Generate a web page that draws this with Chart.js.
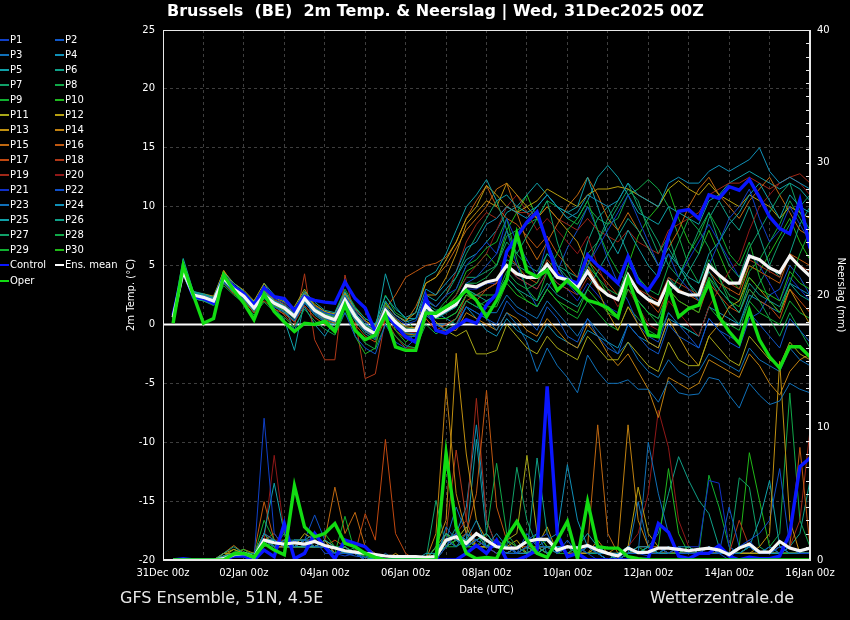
<!DOCTYPE html>
<html><head><meta charset="utf-8">
<script src="https://cdn.jsdelivr.net/npm/chart.js@4"></script>
<style>
html,body{margin:0;padding:0;background:#000;}
#wrap{position:relative;width:850px;height:620px;background:#000;overflow:hidden;font-family:"DejaVu Sans",sans-serif;color:#fff;}
#title{position:absolute;left:167px;top:1px;font-weight:bold;font-size:16px;line-height:20px;white-space:pre;}
#cv{position:absolute;left:0;top:0;}
.lg{position:absolute;font-size:10px;line-height:12px;white-space:pre;}
.lg i{position:absolute;left:-10px;top:5px;width:9px;height:2px;}
.ft{position:absolute;font-size:16px;line-height:20px;color:#e8e8e8;white-space:pre;}
</style></head><body>
<div id="wrap">
<canvas id="cv" width="850" height="620"></canvas>
<div id="title">Brussels  (BE)  2m Temp. &amp; Neerslag | Wed, 31Dec2025 00Z</div>
<div id="legend"></div>
<div class="ft" style="left:120px;top:588px;">GFS Ensemble, 51N, 4.5E</div>
<div class="ft" style="left:650px;top:588px;">Wetterzentrale.de</div>
</div>
<script>
const xTickLabels = ['31Dec 00z','02Jan 00z','04Jan 00z','06Jan 00z','08Jan 00z','10Jan 00z','12Jan 00z','14Jan 00z','16Jan 00z'];
const memberNames = ['P1','P2','P3','P4','P5','P6','P7','P8','P9','P10','P11','P12','P13','P14','P15','P16','P17','P18','P19','P20','P21','P22','P23','P24','P25','P26','P27','P28','P29','P30'];
const memberColors = ['#1040c8','#1058c8','#1070b8','#1090b8','#10a0a8','#10a088','#10a068','#10a848','#10b030','#20b820','#a8a818','#b8a010','#c09010','#c08010','#c06810','#c05810','#c04810','#b03818','#a02818','#901818','#1030c8','#1050c8','#1070b8','#1090b8','#10a0a8','#10a088','#10a068','#10a848','#10b030','#20b818'];

// 2m temperature (°C), 6-hourly from 31Dec 06z to 16Jan 00z
const controlT = [0.8,4.6,2.35,2.2,1.8,4.05,3.2,2.6, 1.65,3.1,2.35,2.2,1.2,2.35,2.05,1.9, 1.8,3.6,2.2,1.4,-0.6,0.95,-0.05,-1.05, -1.5,2.35,-0.5,-0.75,-0.2,0.4,0.1,1.65, 2.6,6.2,7.45,8.7,9.55,6.9,4.2,3.8, 3.5,5.9,5.0,4.3,3.5,5.75,3.6,2.9, 4.2,7.45,9.6,9.75,9.0,11.0,10.7,11.7, 11.4,12.3,10.8,9.15,8.15,7.7,10.55,6.45];
const operT = [0.1,5.0,2.5,0.1,0.5,4.2,2.9,1.8, 0.4,2.6,1.1,0.2,-0.6,0.1,0.0,0.25, -0.6,1.65,-0.5,-1.3,-0.9,0.8,-1.9,-2.2, -2.2,0.95,0.95,1.5,2.05,2.9,2.05,0.65, 2.05,3.75,7.7,4.5,4.05,4.6,2.9,3.75, 2.9,2.05,1.8,1.4,0.6,3.9,1.5,-0.9, -1.05,3.2,0.65,1.35,1.65,3.5,0.65,-0.6, -1.6,1.2,-1.3,-2.75,-3.7,-1.9,-1.9,-2.75];
const meanT = [0.6,4.5,2.5,2.3,2.0,3.9,3.0,2.4, 1.4,2.5,1.8,1.4,0.7,2.2,1.2,0.7, 0.4,2.1,0.7,-0.3,-0.8,1.2,0.2,-0.5, -0.5,1.6,0.7,1.2,1.7,3.3,3.2,3.6, 3.8,5.0,4.3,4.0,4.0,5.1,4.0,3.8, 3.1,4.5,3.2,2.5,2.1,4.2,2.8,2.1, 1.7,3.6,2.8,2.5,2.5,5.0,4.2,3.5, 3.5,5.8,5.5,4.8,4.4,5.8,4.9,4.1];

const p1T = [.8,4.6,2.6,2.4,2.1,3.8,3.2,2.6, 1.8,3,2.2,1.8,1,2.4,1.5,1, .8,2.4,1.2,.2,-.5,1.5,.6,0, .3,2.2,1.5,2.5,3,5,6,7, 6,9,7,5.5,4,7,5,3.5, 2.5,5,6.5,8,9.5,11,9,7, 5,6,4,3,2,5,7,9, 10,11.5,9,7,8,10,8.5,7];
const p2T = [.5,4.4,2.3,2.1,1.8,3.6,2.8,2.2, 1.2,2.3,1.5,1.1,.3,1.8,.9,.3, -.5,1,-1,-2,-2.5,0,-1.5,-2, -1.2,.8,0,-.5,-.3,1.5,1,.5, 0,2,1,.5,-.5,1.5,.5,-1, -1.5,.5,-1,-2,-2.5,0,-1,-2, -2.5,0,-1,-1.5,-2,.5,-.5,-1, -1.5,1,0,-1,-2,.5,-.5,-1.5];
const p3T = [.7,4.5,2.4,2.2,1.9,3.7,2.9,2.3, 1.3,2.4,1.7,1.3,.5,2,1,.5, .2,1.9,.4,-.6,-1.2,.8,-.3,-1, -1,1,0,-.5,0,1.5,1,.5, -.5,1,0,-1.5,-4,-2,-3.5,-4.5, -5.8,-2.6,-4,-5,-5,-4.7,-5.5,-5.5, -6.6,-4.8,-5.8,-6,-5.9,-4.5,-4.7,-6, -7.1,-5,-6,-6.8,-6.5,-5,-5.5,-5.8];
const p4T = [.6,4.7,2.7,2.5,2.2,4.2,3.3,2.7, 1.7,2.8,2,1.6,.9,2.6,1.5,1, .7,2.5,1,0,-.4,2,.8,.2, .5,3,2.5,3.5,4.5,6.5,7,8.5, 9,10,9.5,9,10,11,10,9, 9.5,11,10.5,10,10.5,12,11,10.5, 10,12,12.5,12,12,13,13.5,13, 13.5,14,15,13,12,12.5,12,11.5];
const p5T = [.9,5.6,2.8,2.6,2.3,4.4,3.5,2.8, 1.9,3.2,2.4,2,1.3,2.8,1.9,1.2, 1,2.8,1.4,.5,0,2.4,1.3,.6, 1,4,4.5,6,8,10,11,12.3, 10.5,11,10,9.5,10,11,10,9.5, 10,12.5,10,7.5,6,8,6.5,5, 4,6,5,4,3.5,6,7,8.5, 9.5,11,12,10.5,9,11,10,9.5];
const p6T = [.4,4.3,2.2,2,1.7,3.5,2.7,2.1, 1.1,2.2,1.5,1,.3,1.9,.8,.2, -.3,1.8,.3,-.8,-1.3,.9,-.2,-1, -1,1.2,.5,1,1.5,3,2.5,2, 2.5,4,3,2.5,2,3.5,2.5,2, 1.5,3,4.5,6,7.5,9,8,6.5, 5,6.5,5,3.5,2.5,4.5,3,2, 1,3.5,2.5,2,1.5,3.5,2.5,2];
const p7T = [.6,4.6,2.6,2.4,2.1,4,3.1,2.5, 1.5,2.7,2,1.6,.9,2.4,1.4,.9, .6,2.3,.9,-.1,-.6,1.4,.4,-.3, -.4,2,1.5,2.5,4,6,7.5,9, 10.5,8,6,7.5,9,10.5,7,4.5, 3,5,7,9,10.5,12,10,8.5, 7,5,4,6,8,9.5,7,5, 4,6.5,8,9.5,11,12,9.5,8];
const p8T = [.5,4.2,2.2,2,1.6,3.3,2.5,1.8, .8,1.9,1.1,.6,-.2,1.3,.3,-.4, -.9,1,-.5,-1.6,-2.1,0,-1,-1.8, -2,0,-.8,-.3,.5,2,1.5,2, 2.5,4.5,3.5,3,3.5,5,4,3.5, 3,5,4,3,2.5,5,4,3, 2.5,5,7,9,8,6.5,4,2, 1,3,2,.5,-1,1,-.5,-2];
const p9T = [.7,4.8,2.7,2.5,2.2,4.1,3.2,2.6, 1.6,2.6,1.9,1.5,.8,2.3,1.3,.8, .5,2.2,.8,-.2,-.7,1.3,.3,-.4, -.5,1.5,1,2,3,5,5.5,6.5, 7,9,5.5,3,2,4.5,6,8, 9,10.5,8,6,4.5,3.5,2,1, 0,2.5,4,6,7.5,9.5,8,6, 5,7,4,2,1,3.5,6,8];
const p10T = [.4,4.4,2.3,2.1,1.8,3.7,2.8,2.2, 1.2,2.3,1.6,1.2,.5,2,1,.5, -.5,2.5,-1,-2.5,-2,2,-.5,-1.5, -.8,1.5,.5,.5,1,2.5,2,1.5, 1.5,3.5,2.5,2,1.5,3,2,1.5, 1,3,2,1,.5,3,2,1, .5,3,2,1.5,1,4,3,2, 1.5,4,3,2.5,2,4.5,3.5,3];
const p11T = [.6,4.5,2.5,2.3,2,3.9,3,2.4, 2,3.5,2,1,1.5,3,1.5,.5, .4,2.1,.7,-.3,-.8,1.2,.2,-.5, -.6,1.2,.2,-.5,-1,-.5,-2.5,-2.5, -2.2,0,-1,-2,-2.5,-1,-2,-2.5, -3,-1,-2,-3,-3,-1.5,-2.5,-3.5, -4,-1.5,-3,-3.5,-3.5,-1,-2,-3, -3.5,-1,-2,-3,-3.5,-1.5,-2.5,-3];
const p12T = [.5,4.6,2.7,2.6,2.4,4.5,3.5,2.9, 2,3,2.3,1.9,1.2,2.7,1.7,1.1, .9,2.7,1.3,.3,-.2,1.8,.8,.3, 1,3.5,4,5.5,7,9,10,11.8, 11,10,9.5,10,10.5,11.5,11,10.5, 10,11,11.5,11.5,11.7,11.5,11,10.5, 10,11.5,12.2,11.5,11,12,11,10.5, 10,11,10.5,10,9,10,9.5,9];
const p13T = [.8,4.3,2.4,2.3,2.2,4.6,3.3,2.5, 1.5,2.9,2,1.5,.8,2.5,1.4,.9, .6,2.6,1,0,-.5,1.6,.5,-.2, -.3,2.5,2.5,4,6,8.5,9.5,10.5, 10,12,11,10,9,10,9,8, 7,5,3,1,-.5,1.5,0,-1.5, -2,.5,-1,-2.5,-3.5,-1,0,1.5, 2,4,3,2,1,3,1.5,0];
const p14T = [.5,4.4,2.4,2.2,1.9,3.8,2.9,2.3, 1.3,2.4,1.6,1.2,.5,2,1,.4, .1,1.8,.4,-.6,-1.1,.9,-.1,-.8, -.9,1,0,-.5,-.5,1,.5,0, -.5,1,.5,-.5,-1,.5,-.5,-1.5, -2,0,-1,-2.5,-3.5,-2.5,-4,-5.5, -7.9,-4.5,-5,-5.5,-5,-3,-3.5,-4, -4.5,-2.5,-3.5,-5,-6,-4,-3,-2.5];
const p15T = [.6,4.5,2.6,2.5,2.3,4.3,3.3,2.7, 1.7,2.8,2.1,1.7,1,2.6,1.6,1.1, .8,2.5,1.2,.3,-.2,1.8,.8,.2, 1.5,3.5,4,5,6.5,8,9,10, 11.5,12,9.5,7,5.5,7,8.5,10, 11,12.5,11,9,8,9.5,8,6.5, 5,6.5,8,10,11.5,12.5,11,10, 9,10.5,11.5,12.5,11,9.5,8,7.5];
const p16T = [.7,4.4,2.5,2.4,2.1,4,3.1,2.5, 1.5,2.6,1.9,1.5,.8,2.3,1.3,.8, .5,2.2,.8,-.2,-.7,1.3,2.5,4, 4.5,5,5.2,5.7,7,9,10.5,11.8, 10,9,8.5,7.5,6.5,7.5,6,5, 4,5.5,4.5,3.5,2.5,4,3,2, 1.5,3.5,3,2.5,2,4.5,3.5,3, 2.5,5,4.5,4,3.5,6,5.5,5];
const p17T = [.5,4.2,2.2,2,1.7,3.5,2.6,2, 1,2,1.3,.9,.2,1.6,.6,0, -.3,1.5,0,-1,-1.5,.5,-.5,-1.2, -1.3,.5,-.5,0,.5,2.5,2,3, 3.5,6,5,4,3.5,5.5,4.5,3.5, 3,5,3.5,2.5,2,4,3,2, 1,3,2,1.5,1,3.5,2.5,1.5, 1,3,2,1.5,.5,3,2,1];
const p18T = [.6,4.3,2.3,2.1,1.7,3.7,2.8,2.1, 1,2.6,1.6,.8,-.2,4.3,-1.3,-3, -3,4.2,.5,-4.6,-4.2,.5,-1,-2, -2,.5,-.5,-.5,0,2,2.5,3, 3.5,5,4,3.5,3,4.5,3.5,3, 2.5,4,3,2.5,2,4,3,2.5, 2,4,3.5,3,2.5,5,4,3.5, 3,5.5,5,4.5,4,6,5,4.5];
const p19T = [.7,4.6,2.6,2.4,2.1,4,3.1,2.5, 1.5,2.6,1.9,1.5,.8,2.3,1.3,.8, .5,2.2,.8,-.2,-.7,1.3,.3,-.4, -.3,2,1.5,2.5,4.5,7,8.5,9.5, 9,10,9.5,9.5,9,10,9,8.5, 8,9,8,7.5,7,8,7,6.5, 6,8,8.5,9,9.5,11,11.5,12, 12,12.5,12,11.5,12,12.5,12.8,12];
const p20T = [.5,4.4,2.4,2.2,1.9,3.8,2.9,2.3, 1.3,2.4,1.7,1.3,.6,2.1,1.1,.6, .3,2,.6,-.4,-.9,1.1,.1,-.6, -.7,1.2,.5,1.5,2.5,4,5,6, 8,10,11,9.5,8,9,8,7, 6,7.5,5,3,1.5,3,1.5,0, -.5,2,1,0,-1,1.5,3,4.5, 5.5,8,10,11,12,12.5,12,11];
const p21T = [.6,4.5,2.5,2.3,2,3.8,3,2.4, 1.4,2.5,1.8,1.4,.7,2.2,1.2,.7, .4,2.1,.7,-.3,-.8,1.2,.2,-.5, -.8,1,.5,1,1.5,3,3,3.5, 3.5,5,4,3.5,3,4.5,3.5,3, 2,3.5,2.5,1.5,1,3,2,1, .5,2.5,4,5.5,7,8.5,7,5.5, 4,6,5,3.5,2,4,3,2];
const p22T = [.7,4.6,2.6,2.4,2.1,3.9,3.1,2.5, 1.5,2.6,1.9,1.5,.8,2.3,1.3,.8, .5,2.2,.8,-.2,-.7,1.3,.3,-.4, -.5,1.5,1,1.5,2,3.5,4,5, 6,8,5,3,1.5,3,4.5,6.5, 8,10,8,5.5,3.5,2,0,-1, -1.5,1,0,-1,-2,.5,-.5,-1.5, -2,.5,1,2.5,3,5,4,2.5];
const p23T = [.5,4.3,2.3,2.1,1.8,3.6,2.8,2.2, 1.2,2.3,1.6,1.2,.5,2,1,.5, .2,1.9,.5,-.5,-1,1,0,-.7, -.8,.8,0,0,.5,2,1.5,1, 1,2.5,1.5,1,.5,2,1,0, -1,.5,-.5,-1.5,-2.5,-1.5,-3,-4, -4.5,-3,-4,-4.5,-4,-2.5,-3,-3.5, -4,-2,-3,-3.5,-4,-2,-3,-3.5];
const p24T = [.6,4.5,2.5,2.3,2,3.9,3,2.4, 1,3.5,2.5,1.5,-.5,1.5,0,-1, .4,2.1,.7,-.3,-.8,1.2,.2,-.5, -.5,1.5,1,.5,0,1.5,.5,-.5, -1,.5,-.5,-1,-1.5,0,-1,-1.5, -2,-.5,-1,-1.5,-2,0,-1,-1.5, -2,.5,0,-.5,-1,1.5,1,.5, 0,2.5,2,1.5,1,3.5,3,2.5];
const p25T = [.8,4.8,2.8,2.5,2.2,4.1,3.2,2.6, 1.5,2.7,1.4,.4,-2.2,2,1,.3, 0,2.4,1,0,-.5,4.3,1.5,.5, .5,2.5,2,3,4,5.5,6,7, 8,9.5,10,11,12,11,10,9.5, 9,10.5,12.5,13.5,12.5,11,9.5,9, 8.5,10,9.5,9,8.5,10.5,11,12, 12.5,13,12.5,12,11.5,12,11.5,10.5];
const p26T = [.6,4.4,2.4,2.3,2,3.8,2.9,2.3, 1.3,2.4,1.7,1.3,.6,2.1,1.1,.6, .3,2,.6,-.4,-.9,1.1,.1,-.6, -.6,1.3,.5,.5,1,2.5,2.5,3, 3.5,5.5,5,4.5,4,6,5,4.5, 4,7,9,10,8,6,4,2.5, 1.5,4,3,4.5,6,9,10.5,9, 8,10,7.5,5,4,6,8.5,10];
const p27T = [.7,4.5,2.5,2.4,2.1,4,3.1,2.4, 1.4,2.5,1.8,1.4,.7,2.2,1.2,.7, .4,2.1,.7,-.3,-.8,1.2,.2,-.5, -.4,1.8,1.2,1.5,2.5,4,4,4.5, 5,7,6,5,4.5,6,5,4, 3.5,6,7,8.5,10,11.5,10.5,8, 6,7.5,5,3.5,2,4,2.5,1, 0,2,3.5,5,7,8.5,10,11];
const p28T = [.5,4.4,2.4,2.2,1.9,3.8,2.8,2.2, 1.2,2.3,1.6,1.2,.5,2,1,.5, .2,1.9,.5,-.5,-1,1,0,-.7, -.8,1,.5,1,2,3.5,3.5,4, 5,7.5,8,8.5,9,10.5,10,9, 8.5,10,9,8.5,9,11,11.5,12.3, 11.5,10,7.5,5,3.5,5.5,4,2.5, 2,4.5,5.5,7,8.5,10.5,9,7.5];
const p29T = [.6,4.6,2.6,2.4,2.1,3.9,3,2.4, 1.4,2.5,1.8,1.4,.7,2.2,1.2,.7, 1,3,1.5,.5,0,2.5,1,.5, -.6,1.5,.5,1,1.5,3,2.5,2.5, 2.5,4,3,2,1.5,3,2,1, .5,2,1,0,-.5,1.5,.5,-.5, -1,1,0,-.5,-1,1.5,.5,0, -.5,2,1,.5,0,2,1,.5];
const p30T = [.5,4.5,2.5,2.3,2,3.9,3,2.4, 1.4,2.5,1.8,1.4,.7,2.2,1.2,.7, .4,2.1,.7,-.3,-.8,1.2,.2,-.5, -.4,1.5,1,1.5,2.5,4.5,5,6, 5,8,9.5,11,9,7,5,3.5, 3,5.5,4,2.5,2,5,7.5,9, 10,11.5,9,7,6,8,6,4, 3,5,4.5,6,7.5,9,7,5.5];

// precipitation (mm per 6h)
const controlR = [0,.1,0,0,0,0,.3,.3, 0,.75,.25,2.75,.1,.5,2,1, .1,1.5,1.25,1,.25,0,0,0, 0,0,0,0,0,.5,1.1,.5, 1.5,0,0,.3,.75,13.1,2,.25, .5,0,0,0,0,0,0,.1, 2.75,2.1,.3,.1,.5,.5,1.1,.3, 0,.2,.1,.1,.3,2,7.05,7.7];
const operR = [0,0,0,0,0,0,.45,.5, .2,1.25,.75,.4,5.6,2.5,1.75,2, 2.75,1.25,1,.5,.2,0,0,0, 0,0,0,8.05,2.5,.5,.1,.2, .1,1.75,2.9,1.5,.5,.2,1.5,2.9, .1,4.4,1,.9,.9,.25,.1,0, 0,0,0,0,0,0,0,0, 0,0,0,0,0,0,0,0];
const meanR = [0,0,0,0,0,.1,.4,.5, .2,1.5,1.3,1.2,1.3,1.2,1.4,1.1, .9,.7,.6,.5,.4,.3,.25,.25, .25,.2,.25,1.5,1.75,1.25,2,1.5, 1,.9,.9,1.4,1.55,1.55,.75,1, .9,1.1,.75,.5,.3,.9,.55,.6, .9,.9,.8,.7,.8,.9,.75,.4, .9,1.2,.6,.6,1.4,.9,.7,.9];

const p1R = [0,0,0,0,0,0,.5,.5, 0,10.7,2,1,1.5,1,1.5,.5, .5,.3,.5,0,0,0,0,0, 0,0,0,1,2,1,1.5,1, .5,1,.5,1,1.5,2,.5,1, 1,.5,0,0,0,1,.5,.3, 1,.5,1,.5,.5,1,.5,0, 1,1.5,.5,.5,1,1,.5,.5];
const p2R = [0,0,0,0,0,.2,.3,.5, .2,1.5,1,1.5,1,1.5,1,1, .5,.5,.3,.2,.5,0,0,0, 0,0,0,1.5,1,2,1.5,1, 1,.5,.5,2,1,1,.5,1.5, .5,1,.5,0,0,.5,.5,.5, .5,1,.5,.5,.5,.5,.5,4, 1,1,.5,1,.5,1,.5,.5];
const p3R = [0,0,0,0,0,0,.5,.3, 0,2,1.5,1,1.5,1.5,1.5,1, .5,.5,.5,0,0,.5,0,0, 0,0,0,2.5,1.5,1,2,1.5, 1,.5,1,1.5,2,.5,1,1, .5,1,.5,.5,0,1,.5,8.9, 5,2,.5,.5,.5,1,.5,.5, .5,1,.5,.5,1,.5,.5,.5];
const p4R = [0,0,0,0,0,.3,.5,.5, .2,1.5,1.5,1,1,1.5,2,1, 1,.5,.5,.2,0,0,.3,0, 0,0,0,1.5,2,1.5,3,1, 2,1,.5,.5,1,1.5,2,7.2, 3,1,1,.5,.5,.5,1,1, .5,.5,1,1,.5,1,.5,.5, 1,1,.5,.5,.5,1,.5,.5];
const p5R = [0,0,0,0,0,0,.4,.6, .3,2,5.8,2,1,1,1,1.5, 1,.5,.5,0,.2,0,0,0, 0,.5,.5,2,1.5,1,1.5,2, 1,.5,.5,1,.5,1,1,1, 1,2,1,.5,0,.5,.5,1, .5,1,.5,.5,.5,.5,.5,.5, 1,1,.5,.5,.5,1,.5,.5];
const p6R = [0,0,0,0,0,.5,1,.5, .5,1.5,1.5,1,1.5,1,1,1, .5,1,.5,.5,0,0,0,0, 0,0,.5,1,2.5,1,2,1, 1,1,.5,.5,7.7,2,.5,1, 1,.5,.5,0,.5,1,.5,.5, 1,.5,1,.5,.5,1,.5,.5, .5,1,.5,1,.5,1,.5,.5];
const p7R = [0,0,0,0,0,0,.3,.5, .3,2,1,1.5,1.5,1.5,1,1, .5,.5,1,.5,0,0,0,0, 0,0,1,1.5,1,1.5,2,1, 1.5,1,7,3,1,.5,1,.5, 1,.5,.5,.5,0,1,.5,1, .5,1,.5,.5,.5,.5,.5,.5, .5,1,.5,.5,1,.5,.5,.5];
const p8R = [0,0,0,0,0,.2,.5,.5, .5,1.5,1,2,1,1,1.5,1, 1,1,.5,0,0,0,0,0, 0,0,0,1,1,2,1.5,2, 7.3,2,1,1.5,.5,1,.5,1, .5,1,.5,0,0,1,.5,.5, .5,.5,.5,1,.5,.5,1,.5, .5,1,.5,.5,.5,.5,.5,.5];
const p9R = [0,0,0,0,0,0,.6,.8, .3,3,1.5,1,1.5,1.5,1,1, .5,3.3,.5,.5,0,0,0,.3, 0,0,.5,1,1.5,1,1.5,1, 1,1.5,1,.5,1,1,.5,.5, 1,.5,.5,0,.5,1,.5,1, .5,1,.5,.5,.5,.5,1,.5, .5,1,.5,.5,.5,1,.5,.5];
const p10R = [0,0,0,0,0,.3,.5,.3, 0,1,1.5,1,1,1,1.5,2, 1,.5,.5,.3,0,0,0,0, 0,0,.5,2,1,1.5,1,2, 1,.5,.5,1,2,1,.5,1, .5,1,.5,.5,0,.5,1,.5, 1,6.9,2,.5,.5,1,.5,.5, .5,1,.5,.5,.5,.5,.5,.5];
const p11R = [0,0,0,0,0,.3,.8,.5, .3,1.5,1,1.5,1,1.5,1,1.5, 1,.5,.5,0,.3,0,0,0, 0,0,1,2,1.5,2.5,1,1, 1,1.5,2,7.9,2,1,.5,1, .5,1,.5,.5,0,.5,.5,.5, .5,.5,.5,1,.5,.5,.5,.5, .5,.5,.5,.5,.5,.5,.5,.5];
const p12R = [0,0,0,0,0,.5,.5,.3, .2,1,1.5,1,1,2,1.5,1, .5,1,.5,0,0,0,0,0, 0,0,.5,1,1.5,1,1.5,1, 1,1,1.5,.5,1,2.5,.5,1, .5,.5,1,.5,0,1,5.5,2, 1,.5,.5,1,.5,.5,.5,.5, .5,1,.5,.5,.5,.5,.5,.5];
const p13R = [0,0,0,0,0,.5,.8,.5, .5,2,1,1,1.5,1,1,1.5, .5,.5,.5,0,0,0,.5,0, 0,0,1,3,15.6,8,3,1.5, 1,.5,1,.5,1,1,.5,1, .5,.5,1,.5,0,.5,.5,.5, .5,1,.5,.5,.5,.5,.5,.5, .5,.5,1,2,15,3,.5,.5];
const p14R = [0,0,0,0,0,.3,.5,.8, .5,1.5,1.5,1,1,1.5,1.5,1, 1,.5,.5,.5,0,0,0,0, 0,0,2,13,5,2,1,1, .5,1,.5,1,1,.5,1,.5, 1,.5,1.5,.5,1,10.2,3,1, 1,.5,.5,.5,.5,1,.5,.5, .5,.5,.5,.5,1,1,.5,.5];
const p15R = [0,0,0,0,0,.5,1.1,.5, .3,1.5,1,1.5,1,1,1,1.5, 5.5,2,3.6,1,.5,0,0,0, 0,0,.5,1,2,1.5,1,1, 1.5,1,.5,1,.5,1,1,.5, 1,1,10.2,2,.5,.5,.5,.5, 1,.5,.5,.5,.5,1,.5,.5, .5,.5,.5,.5,.5,.5,.5,.5];
const p16R = [0,0,0,0,0,.3,.5,.5, .5,4.4,1.5,1,1,1,1.5,1, .5,.5,.5,0,0,0,0,0, 0,0,.5,2,1.5,2,5,12.8, 4,1.5,1,1,.5,1,.5,1, .5,.5,.5,.5,0,.5,1,1, .5,.5,1,.5,.5,.5,.5,.5, .5,1,.5,.5,.5,1,8.5,1];
const p17R = [0,0,0,0,0,.2,.5,.8, .3,1.5,2,1,1.5,1,1.5,1, 1.5,1,.5,3.5,1.5,9.1,2,.5, 0,0,0,1.5,2,1,1.5,2, 1,1,.5,.5,1,1,1,.5, .5,.5,.5,0,0,.5,.5,.5, .5,.5,.5,.5,.5,.5,.5,.5, .5,.5,.5,.5,.5,.5,.5,.5];
const p18R = [0,0,0,0,0,.3,.3,.5, .5,2,1.5,1.5,1,1.5,1,1, .5,.5,.5,.5,0,0,0,0, 0,0,0,2,8.3,3,1,1.5, 1,1,.5,.5,.5,1,.5,1, .5,1,.5,.5,.5,.5,.5,.5, .5,.5,.5,.5,.5,.5,.5,.5, 3,1,.5,.5,.5,.5,.5,.5];
const p19R = [0,0,0,0,0,.2,.5,.4, .3,2,1,1,1.5,1.5,1,1, .5,.5,.5,0,0,0,0,0, 0,0,0,1,2,3,12.2,3, 1,.5,1,.5,1,.5,1,.5, .5,.5,.5,.5,0,.5,.5,.5, .5,.5,.5,.5,.5,.5,.5,.5, .5,.5,.5,.5,.5,1,3,9.8];
const p20R = [0,0,0,0,0,.3,.5,.5, .3,1.5,7.9,2,1,1,1.5,1, .5,.5,.5,0,0,0,0,0, 0,0,.5,1.5,1,2,1.5,1, .5,1,.5,1,.5,1,.5,1, .5,.5,.5,.5,.5,1,2,5, 11.3,8.5,3,1,.5,.5,.5,.5, .5,.5,.5,.5,.5,.5,.5,.5];
const p21R = [0,0,0,0,0,.2,.5,.3, .3,1.5,1,1,1.5,1,1.5,1, .5,.5,.5,0,0,0,0,0, 0,0,0,1,1.5,1,2,1.5, 1,.5,1,.5,1,1,.5,1, .5,.5,.5,.5,0,.5,.5,.5, .5,.5,.5,1,1,6,5.8,1, .5,.5,.5,.5,.5,.5,.5,.5];
const p22R = [0,0,0,0,0,.3,.4,.5, .3,1.5,1,1,1.5,1.5,3.4,1.5, .5,.5,.5,.5,0,0,0,0, 0,0,.5,1,1.5,1.5,1.5,1, 1,1,.5,.5,1,.5,1,1, .5,1,.5,.5,0,.5,.5,.5, .5,.5,.5,.5,.5,.5,.5,.5, 1,1.5,2,3,6.9,1,.5,.5];
const p23R = [0,0,0,0,0,.3,.5,.5, .5,1.5,1.5,1,1,1.5,1,1, .5,.5,.5,0,0,0,0,0, 0,0,.5,1.5,4,2,1,1.5, 1,1.5,.5,1,.5,1,.5,1, .5,.5,.5,.5,0,.5,4.4,1, .5,.5,.5,.5,.5,.5,.5,.5, .5,.5,.5,.5,.5,.5,.5,.5];
const p24R = [0,0,0,0,0,.2,.5,.5, .3,1.5,1,1.5,1,1,1.5,1, .5,.5,.5,0,0,0,0,0, 0,0,.5,1.5,2,4,10.2,3, 1,.5,1,.5,1,1,.5,1, .5,.5,.5,.5,0,.5,.5,.5, .5,.5,.5,.5,.5,.5,.5,.5, .5,.5,.5,.5,.5,.5,.5,.5];
const p25R = [0,0,0,0,0,.3,.5,.5, .3,1.5,1.5,1,1,1.5,1,1, .5,.5,.5,.5,0,0,0,0, 0,0,.5,8.5,2,1.5,9.1,2, 1,.5,1,.5,1,.5,1,.5, .5,.5,.5,.5,.5,.5,.5,.5, .5,.5,.5,.5,.5,.5,.5,.5, 1,1,3,6,1,.5,.5,.5];
const p26R = [0,0,0,0,0,.3,.5,.5, .5,1.5,1,1,1.5,1,1,1, .5,.5,.5,0,0,0,0,0, 0,0,.5,1,1.5,1,1.5,1, 1,.5,1,.5,1,.5,1,.5, .5,.5,.5,.5,0,.5,.5,1, 2,5,7.8,6,4.5,3.5,1,.5, .5,.5,.5,.5,.5,1,2,6];
const p27R = [0,0,0,0,0,.3,.5,.5, .3,1.5,1.5,1,1,1,1,1.5, .5,.5,.5,0,0,0,0,0, 0,0,4.5,1,1.5,1,1.5,1, 1,.5,1,.5,1,.5,1,.5, .5,.5,.5,.5,0,.5,.5,.5, .5,.5,.5,.5,.5,.5,.5,.5, 6.2,5.5,1,.5,.5,.5,.5,.5];
const p28R = [0,0,0,0,0,.3,.5,.5, .3,1.5,1,1.5,1,1,1,1, .5,.5,.5,0,0,0,0,0, 0,0,.5,1,1.5,1.5,1,1, 1,.5,1,.5,1,.5,1,.5, .5,.5,.5,.5,.5,.5,.5,.5, .5,.5,.5,.5,.5,.5,.5,.5, .5,.5,.5,1,2,12.6,3,1];
const p29R = [0,0,0,0,0,.3,.5,.5, .3,1.5,1,1,1.5,1,1.5,1, .5,.5,.5,0,0,0,0,0, 0,0,.5,1,1.5,1,1,1, 1,.5,1,.5,1,.5,1,.5, .5,.5,.5,.5,0,.5,.5,.5, .5,.5,.5,1,.5,6.4,4,1, .5,.5,.5,.5,.5,.5,.5,.5];
const p30R = [0,0,0,0,0,.3,.5,.5, .3,1.5,1,1,1,1.5,1,1, .5,.5,.5,0,0,0,0,0, 0,0,.5,1,1.5,1,1,1, 1,.5,1,.5,1,.5,1,.5, .5,.5,.5,.5,.5,.5,.5,.5, .5,.5,.5,.5,.5,.5,.5,.5, 1,8.1,4.5,1,.5,.5,.5,.5];

const memberT = [p1T,p2T,p3T,p4T,p5T,p6T,p7T,p8T,p9T,p10T,p11T,p12T,p13T,p14T,p15T,p16T,p17T,p18T,p19T,p20T,p21T,p22T,p23T,p24T,p25T,p26T,p27T,p28T,p29T,p30T];
const memberR = [p1R,p2R,p3R,p4R,p5R,p6R,p7R,p8R,p9R,p10R,p11R,p12R,p13R,p14R,p15R,p16R,p17R,p18R,p19R,p20R,p21R,p22R,p23R,p24R,p25R,p26R,p27R,p28R,p29R,p30R];

// forecast hour of each value (index 0 = +6h)
const hours = controlT.map((_, i) => (i + 1) * 6);
const pts = arr => arr.map((v, i) => ({x: hours[i], y: v}));

const datasets = [];
function addSeries(label, arrT, arrR, color, width, order) {
  datasets.push({label: label, data: pts(arrT), yAxisID: 'y', borderColor: color, borderWidth: width, pointRadius: 0, tension: 0, order: order});
  datasets.push({label: label + ' rr', data: pts(arrR), yAxisID: 'y1', borderColor: color, borderWidth: width, pointRadius: 0, tension: 0, order: order});
}
addSeries('Oper', operT, operR, '#12dc12', 3.4, 0);
addSeries('Ens. mean', meanT, meanR, '#f4f4f4', 3.2, 1);
addSeries('Control', controlT, controlR, '#0a16ff', 3.4, 2);
memberNames.forEach((n, i) => addSeries(n, memberT[i], memberR[i], memberColors[i], 1, 10 + i));

// legend
const lg = document.getElementById('legend');
function legendItem(text, color, x, y) {
  const d = document.createElement('div');
  d.className = 'lg';
  d.style.left = x + 'px';
  d.style.top = (y - 6) + 'px';
  d.innerHTML = '<i style="background:' + color + '"></i>' + text;
  lg.appendChild(d);
}
memberNames.forEach((n, i) => {
  const row = Math.floor(i / 2), col = i % 2;
  legendItem(n, memberColors[i], col ? 65 : 10, 40 + row * 15);
});
legendItem('Control', '#0a16ff', 10, 265);
legendItem('Ens. mean', '#ffffff', 65, 265);
legendItem('Oper', '#12dc12', 10, 281);

const frame = {
  id: 'frame',
  beforeDatasetsDraw(chart) {
    const {ctx, chartArea: a, scales} = chart;
    const y0 = scales.y.getPixelForValue(0);
    ctx.save();
    ctx.strokeStyle = '#ffffff';
    ctx.lineWidth = 2;
    ctx.beginPath(); ctx.moveTo(a.left, y0); ctx.lineTo(a.right, y0); ctx.stroke();
    ctx.restore();
  },
  afterDraw(chart) {
    const {ctx, chartArea: a, scales} = chart;
    ctx.save();
    ctx.strokeStyle = '#e8e8e8';
    ctx.lineWidth = 1;
    ctx.strokeRect(a.left + 0.5, a.top + 0.5, a.right - a.left - 1, a.bottom - a.top - 1);
    ctx.beginPath();
    for (let v = 0; v <= 40; v++) {
      const y = Math.round(scales.y1.getPixelForValue(v)) + 0.5;
      ctx.moveTo(a.right - 4, y); ctx.lineTo(a.right, y);
    }
    ctx.stroke();
    ctx.restore();
  }
};

const gridColor = '#3e3e3e';
new Chart(document.getElementById('cv'), {
  type: 'line',
  data: {datasets: datasets},
  plugins: [frame],
  options: {
    responsive: false, animation: false, devicePixelRatio: 1,
    layout: {padding: {left: 122, top: 30, right: 0, bottom: 0}},
    plugins: {legend: {display: false}, tooltip: {enabled: false}},
    elements: {line: {fill: false}},
    scales: {
      x: {
        type: 'linear', min: 0, max: 384,
        afterFit: s => { s.height = 60; },
        grid: {color: gridColor, drawTicks: false},
        border: {dash: [3, 3], color: '#e8e8e8'},
        ticks: {stepSize: 24, autoSkip: false, maxRotation: 0, color: '#ffffff', padding: 7,
          font: {family: 'DejaVu Sans', size: 10},
          callback: v => (v % 48 === 0 ? xTickLabels[v / 48] : '')},
        title: {display: true, text: 'Date (UTC)', color: '#ffffff', font: {family: 'DejaVu Sans', size: 10}, padding: {top: 0, bottom: 24}}
      },
      y: {
        position: 'left', min: -20, max: 25,
        afterFit: s => { s.width = 41; },
        grid: {color: gridColor, drawTicks: false},
        border: {dash: [3, 3], color: '#e8e8e8'},
        ticks: {stepSize: 5, color: '#ffffff', padding: 8, font: {family: 'DejaVu Sans', size: 10}},
        title: {display: true, text: '2m Temp. (°C)', color: '#ffffff', font: {family: 'DejaVu Sans', size: 10}, padding: {top: 3, bottom: 0}}
      },
      y1: {
        position: 'right', min: 0, max: 40,
        afterFit: s => { s.width = 40; },
        grid: {drawOnChartArea: false, drawTicks: false},
        border: {color: '#e8e8e8'},
        ticks: {stepSize: 10, color: '#ffffff', padding: 7, font: {family: 'DejaVu Sans', size: 10}},
        title: {display: true, text: 'Neerslag (mm)', color: '#ffffff', font: {family: 'DejaVu Sans', size: 10}, padding: {top: 3, bottom: 0}}
      }
    }
  }
});
</script>
</body></html>
